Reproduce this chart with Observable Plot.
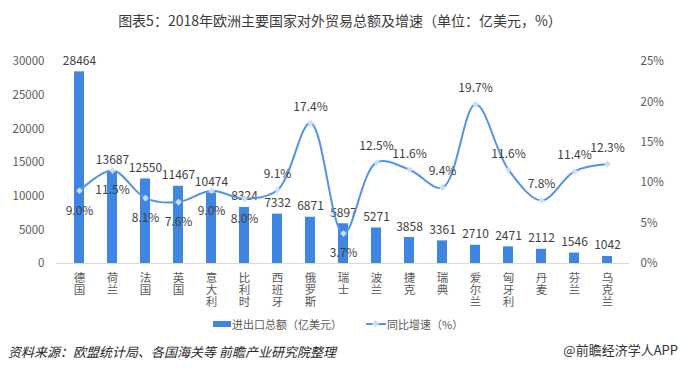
<!DOCTYPE html>
<html>
<head>
<meta charset="utf-8">
<script src="https://cdn.jsdelivr.net/npm/d3@7"></script>
<script src="https://cdn.jsdelivr.net/npm/@observablehq/plot@0.6"></script>
<style>
  html, body { margin: 0; padding: 0; background: #fff; }
  #wrap { position: relative; width: 680px; height: 372px; overflow: hidden; font-family: "Noto Sans CJK SC", "Noto Sans", sans-serif; }
  #chart { position: absolute; left: 0; top: 0; }
  .abs { position: absolute; white-space: nowrap; }
  #title { left: 0; width: 680px; top: 10px; height: 20px; line-height: 20px; text-align: center; font-size: 14px; color: #3a3a3a; }
  .leg { font-size: 11px; color: #595959; height: 16px; line-height: 16px; top: 316px; }
  #source { left: 8px; top: 343px; height: 18px; line-height: 18px; font-size: 13px; font-style: italic; color: #262626; }
  #brand { right: 2px; top: 341px; height: 18px; line-height: 18px; font-size: 13px; color: #333; }
</style>
</head>
<body>
<div id="wrap">
  <div id="chart"></div>
  <div id="title" class="abs">图表5：2018年欧洲主要国家对外贸易总额及增速（单位：亿美元，%）</div>
  <div class="abs" style="left:213px;top:321px;width:18px;height:6px;background:#3f86e2"></div>
  <div class="abs leg" style="left:232px">进出口总额（亿美元）</div>
  <div class="abs" style="left:366px;top:323px;width:20px;height:2px;background:#5394e8"></div>
  <div class="abs" style="left:373px;top:321px;width:5px;height:5px;background:#c8defa;transform:rotate(45deg)"></div>
  <div class="abs leg" style="left:387px">同比增速（%）</div>
  <div id="source" class="abs">资料来源：欧盟统计局、各国海关等 前瞻产业研究院整理</div>
  <div id="brand" class="abs">@前瞻经济学人APP</div>
</div>
<script>
const countries = ["德国","荷兰","法国","英国","意大利","比利时","西班牙","俄罗斯","瑞士","波兰","捷克","瑞典","爱尔兰","匈牙利","丹麦","芬兰","乌克兰"];
const totals = [28464,13687,12550,11467,10474,8324,7332,6871,5897,5271,3858,3361,2710,2471,2112,1546,1042];
const growth = [9.0,11.5,8.1,7.6,9.0,8.0,9.1,17.4,3.7,12.5,11.6,9.4,19.7,11.6,7.8,11.4,12.3];
const leftTicks = [0,5000,10000,15000,20000,25000,30000];
const rightTicks = [0,5,10,15,20,25];
const labelsBelow = ["德国","荷兰","法国","英国","意大利","比利时","瑞士"];

const K = 30000 / 25; // maps percent onto the left value scale
const data = countries.map((c, i) => ({country: c, total: totals[i], g: growth[i], gy: growth[i] * K}));

const font = "Noto Sans CJK SC";
const chart = Plot.plot({
  width: 680,
  height: 372,
  marginTop: 61,
  marginBottom: 109,
  marginLeft: 56,
  marginRight: 51,
  style: {fontFamily: font, fontSize: "12px", background: "transparent", overflow: "visible"},
  x: {domain: countries, paddingInner: 0.7, paddingOuter: 0.35},
  y: {domain: [0, 30000]},
  marks: [
    Plot.barY(data, {x: "country", y: "total", fill: "#3f86e2"}),
    Plot.ruleY([0], {stroke: "#d9d9d9", strokeWidth: 1}),
    Plot.axisY({anchor: "left", ticks: leftTicks, tickFormat: d => String(d), tickSize: 0, tickPadding: 12, label: null, color: "#595959", fontSize: 11.5}),
    Plot.axisY({anchor: "right", ticks: rightTicks.map(d => d * K), tickFormat: d => Math.round(d / K) + "%", tickSize: 0, tickPadding: 11, label: null, color: "#595959", fontSize: 11.5}),
    Plot.axisX({tickSize: 0, tickPadding: 10, tickFormat: d => [...d].join("\n"), lineHeight: 1.05, label: null, color: "#595959", fontSize: 11.5}),
    Plot.text(data, {x: "country", y: "total", text: d => String(d.total), lineAnchor: "bottom", dy: -7, fill: "#404040", fontSize: 12}),
    Plot.line(data, {x: "country", y: "gy", stroke: "#5394e8", strokeWidth: 2, curve: "catmull-rom"}),
    Plot.dot(data, {x: "country", y: "gy", symbol: "diamond2", r: 3, fill: "#c8defa", stroke: "none"}),
    Plot.text(data.filter(d => !labelsBelow.includes(d.country)), {x: "country", y: "gy", text: d => d.g.toFixed(1) + "%", dy: -16, fill: "#404040", fontSize: 12}),
    Plot.text(data.filter(d => labelsBelow.includes(d.country)), {x: "country", y: "gy", text: d => d.g.toFixed(1) + "%", dy: 20, fill: "#404040", fontSize: 12})
  ]
});
document.getElementById("chart").appendChild(chart);
</script>
</body>
</html>
